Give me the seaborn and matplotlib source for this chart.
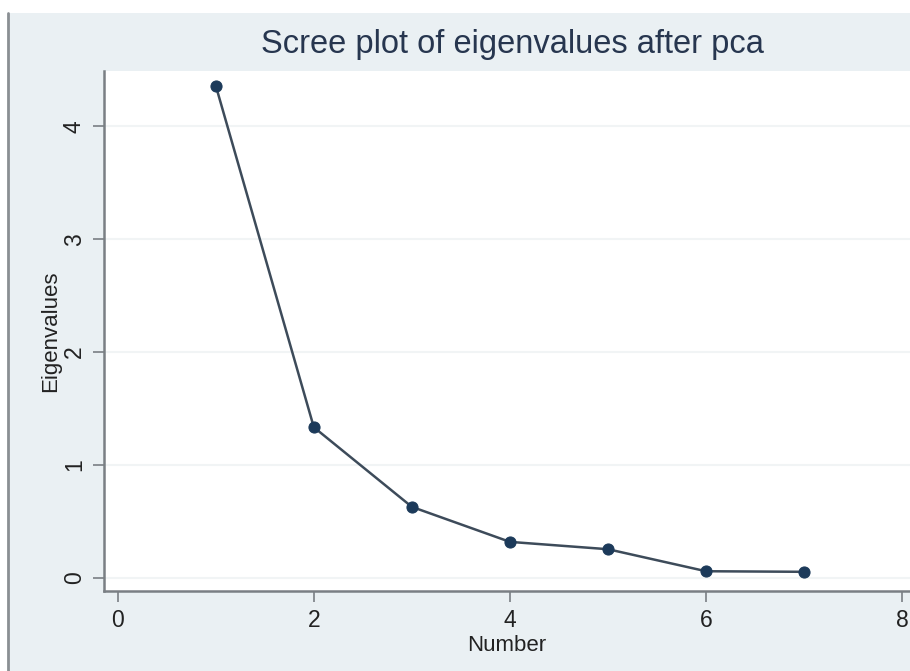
import matplotlib
matplotlib.use("Agg")
import matplotlib.pyplot as plt
import seaborn as sns
import pandas as pd
from matplotlib.patches import Rectangle
from matplotlib.lines import Line2D

numbers = [1, 2, 3, 4, 5, 6, 7]
eigenvalues = [4.36, 1.335, 0.63, 0.32, 0.255, 0.06, 0.055]
x_ticks = [0, 2, 4, 6, 8]
y_ticks = [0, 1, 2, 3, 4]

sns.set_theme(style="white")
plt.rcParams['font.family'] = ['Liberation Sans', 'DejaVu Sans']

BG = "#EAF0F3"
fig = plt.figure(figsize=(9.10, 6.71), dpi=100)
fig.patch.set_facecolor("white")
# light panel below white strip
fig.add_artist(Rectangle((8/910, 0), 1, 1 - 13/671, transform=fig.transFigure,
                         facecolor=BG, edgecolor="none", zorder=-10))
fig.add_artist(Line2D([8/910, 8/910], [0, 1 - 13/671], transform=fig.transFigure,
                      color="#8a8f93", lw=2, zorder=-5))

ax = fig.add_axes([104/910, 80/671, 1 - 104/910, (591 - 71)/671])
ax.set_facecolor("white")

df = pd.DataFrame({"Number": numbers, "Eigenvalues": eigenvalues})
sns.lineplot(data=df, x="Number", y="Eigenvalues", ax=ax, color="#3d4b5a",
             lw=1.8, marker="o", markersize=8, markerfacecolor="#1c3a5a",
             markeredgecolor="#1c3a5a")

ax.set_xlim(-0.14, 8.08)
ax.set_ylim(-0.115, 4.49)
ax.set_xticks(x_ticks)
ax.set_yticks(y_ticks)
ax.yaxis.grid(True, color="#F1F4F5", lw=1.5)
ax.set_axisbelow(True)

for s in ["top", "right"]:
    ax.spines[s].set_visible(False)
for s in ["left", "bottom"]:
    ax.spines[s].set_color("#7a7f84")
    ax.spines[s].set_linewidth(1.8)

ax.tick_params(axis="both", which="major", length=8, width=1.2, color="#7a7f84",
               labelsize=16.5, labelcolor="#222222", bottom=True, left=True, pad=5)
plt.setp(ax.get_yticklabels(), rotation=90, va="center")

ax.set_xlabel("Number", fontsize=16, color="#222222", labelpad=2)
ax.set_ylabel("Eigenvalues", fontsize=16, color="#222222", labelpad=1)

fig.text(512/910, 1 - 45/671, "Scree plot of eigenvalues after pca",
         ha="center", va="center", fontsize=23.5, color="#27364f")

fig.savefig("out.png", dpi=100, facecolor=fig.get_facecolor())
